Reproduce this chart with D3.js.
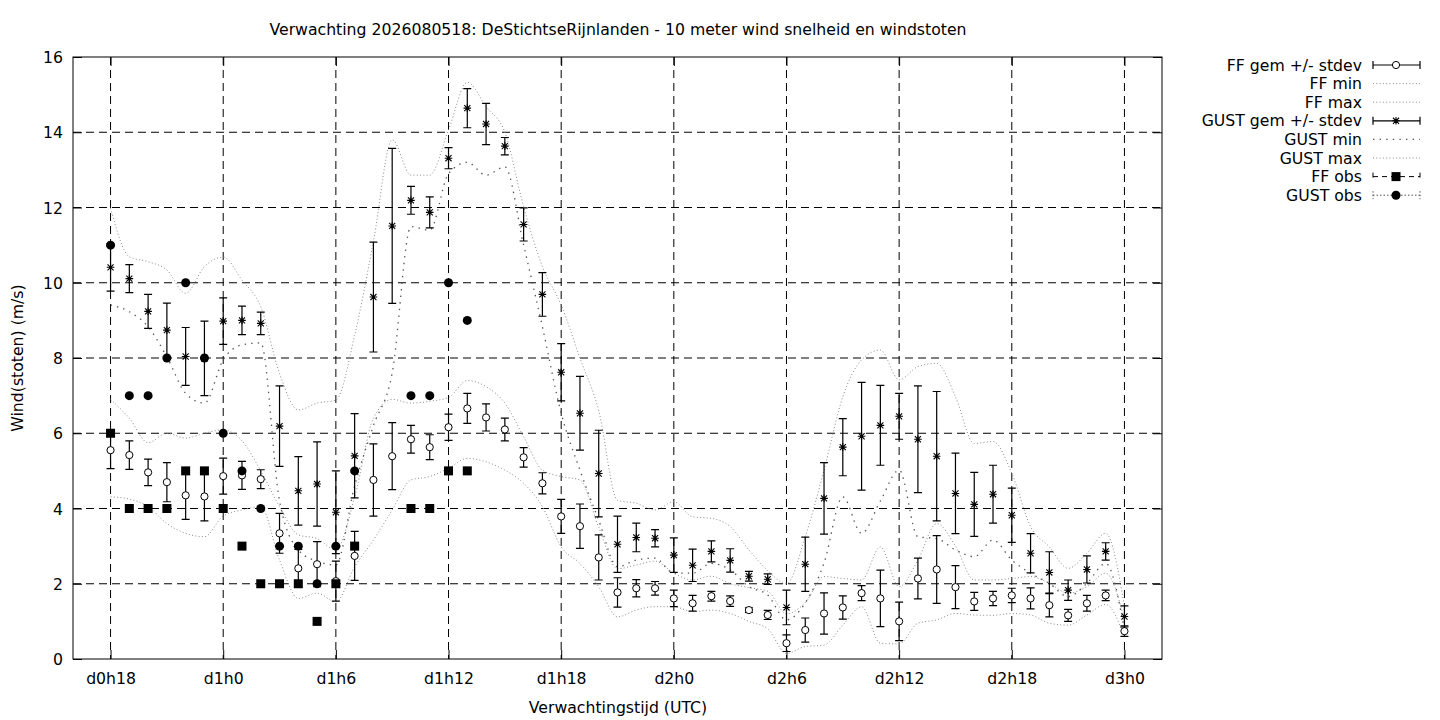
<!DOCTYPE html>
<html>
<head>
<meta charset="utf-8">
<script src="https://cdn.jsdelivr.net/npm/d3@7"></script>
<style>
  body { margin: 0; background: #fff; }
  svg text { font-family: "DejaVu Sans", sans-serif; font-size: 15.7px; fill: #000; }
</style>
</head>
<body>
<div class="content"></div>
<script>
const hours = [18,19,20,21,22,23,24,25,26,27,28,29,30,31,32,33,34,35,36,37,38,39,40,41,42,43,44,45,
  46,47,48,49,50,51,52,53,54,55,56,57,58,59,60,61,62,63,64,65,66,67,68,69,70,71,72];
const tickHours = [18,24,30,36,42,48,54,60,66,72];
const tickLabels = ['d0h18','d1h0','d1h6','d1h12','d1h18','d2h0','d2h6','d2h12','d2h18','d3h0'];

const ffMean = [5.55,5.42,4.96,4.70,4.35,4.32,4.86,4.88,4.78,3.34,2.41,2.52,2.07,2.74,4.76,5.39,5.84,5.63,6.16,6.66,
  6.42,6.10,5.36,4.67,3.79,3.53,2.70,1.77,1.88,1.88,1.61,1.48,1.67,1.54,1.30,1.17,0.42,0.77,1.21,1.37,
  1.75,1.61,1.00,2.14,2.38,1.91,1.53,1.61,1.69,1.61,1.43,1.16,1.48,1.69,0.74];
const ffSd = [0.49,0.38,0.35,0.52,0.64,0.65,0.48,0.37,0.25,0.53,0.50,0.60,0.53,0.65,0.96,0.89,0.37,0.33,0.35,0.40,
  0.36,0.30,0.26,0.28,0.45,0.59,0.60,0.39,0.23,0.18,0.22,0.21,0.13,0.14,0.06,0.12,0.22,0.32,0.55,0.31,
  0.20,0.75,0.51,0.54,0.90,0.57,0.24,0.19,0.19,0.28,0.31,0.16,0.21,0.14,0.14];
const ffMin = [4.31,4.25,4.05,3.60,3.34,3.25,3.80,3.96,4.05,2.63,1.61,1.75,1.52,2.45,3.16,3.96,4.76,4.85,5.07,5.33,
  5.24,5.02,4.67,4.05,2.98,2.54,1.92,1.12,1.30,1.39,1.39,1.26,1.30,1.21,1.00,0.80,0.15,0.33,0.37,0.90,
  1.39,0.42,0.40,0.95,1.04,1.21,1.17,1.16,1.21,1.17,0.95,0.90,1.17,1.45,0.59];
const ffMax = [6.90,6.40,5.75,6.00,5.87,6.00,6.09,5.80,5.00,4.05,3.30,3.20,2.90,4.30,6.40,6.90,6.80,6.85,6.95,7.40,
  7.24,6.80,5.91,5.02,4.85,4.76,3.50,2.40,2.50,2.60,2.28,2.10,2.20,2.00,1.90,1.80,1.20,1.50,2.19,2.14,
  2.10,2.98,1.92,2.63,3.60,3.00,2.10,2.10,2.14,2.19,2.01,1.75,1.92,2.28,1.04];

const gustMean = [10.41,10.11,9.24,8.74,8.04,7.99,8.98,9.00,8.92,6.19,4.47,4.65,3.90,5.40,9.62,11.51,12.19,11.87,13.31,14.64,
  14.22,13.63,11.55,9.69,7.62,6.53,4.93,3.05,3.23,3.21,2.76,2.49,2.86,2.62,2.20,2.12,1.37,2.52,4.27,5.63,
  5.92,6.21,6.45,5.84,5.39,4.40,4.11,4.38,3.82,2.81,2.30,1.83,2.38,2.86,1.13];
const gustSd = [0.63,0.37,0.45,0.72,0.77,0.99,0.62,0.38,0.30,1.07,0.91,1.12,1.10,1.12,1.46,2.06,0.37,0.41,0.28,0.52,
  0.55,0.23,0.44,0.58,0.76,0.98,1.15,0.75,0.38,0.23,0.46,0.43,0.28,0.31,0.13,0.14,0.46,0.72,0.95,0.76,
  1.43,1.06,0.61,1.42,1.72,1.07,0.85,0.77,0.72,0.52,0.55,0.27,0.36,0.23,0.28];
const gustMin = [9.41,9.23,8.83,8.03,7.06,6.80,7.95,8.35,8.40,4.20,2.90,2.60,2.50,4.60,6.20,7.60,11.49,11.40,12.90,13.20,
  12.86,13.08,11.00,8.83,6.53,5.02,3.69,2.45,2.63,2.68,2.28,2.28,2.54,2.37,1.92,1.70,1.04,1.49,2.55,4.31,
  3.34,4.20,5.02,3.25,3.20,2.90,2.72,3.16,2.63,2.28,2.01,1.66,2.01,2.54,0.77];
const gustMax = [11.98,10.69,10.56,10.34,9.72,10.43,10.68,10.07,9.36,7.59,6.62,6.80,6.88,8.60,11.10,13.80,12.86,12.86,14.06,15.33,
  14.68,14.00,12.02,10.43,9.41,8.00,6.60,4.22,4.14,3.96,4.18,3.78,3.74,3.52,2.90,2.35,2.00,3.25,5.02,6.97,
  7.95,8.21,7.42,7.77,7.86,6.97,5.73,5.78,4.94,3.52,2.98,2.41,2.81,3.34,1.39];

const ffObs = [6,4,4,4,5,5,4,3,2,2,2,1,2,3,null,null,4,4,5,5,
  null,null,null,null,null,null,null,null,null,null,null,null,null,null,null,null,null,null,null,null,
  null,null,null,null,null,null,null,null,null,null,null,null,null,null,null];
const gustObs = [11,7,7,8,10,8,6,5,4,3,3,2,3,5,null,null,7,7,10,9,
  null,null,null,null,null,null,null,null,null,null,null,null,null,null,null,null,null,null,null,null,
  null,null,null,null,null,null,null,null,null,null,null,null,null,null,null];

const yTicks = [0,2,4,6,8,10,12,14,16];

const [svgWidth, svgHeight] = [1440, 720];
const svg = d3.select('.content')
  .append('svg')
  .attr('width', svgWidth)
  .attr('height', svgHeight);

const plot = {left: 73, right: 1162, top: 57, bottom: 659};
const x = d3.scaleLinear().domain([16, 74]).range([plot.left, plot.right]);
const y = d3.scaleLinear().domain([0, 16]).range([plot.bottom, plot.top]);

// grid
const grid = svg.append('g');
grid.selectAll('line.gx')
  .data(tickHours)
  .enter().append('line')
  .attr('x1', d => x(d)).attr('x2', d => x(d))
  .attr('y1', plot.top).attr('y2', plot.bottom)
  .attr('stroke', '#000').attr('stroke-width', 1).attr('stroke-dasharray', '8,5');
grid.selectAll('line.gy')
  .data(yTicks.slice(1, -1))
  .enter().append('line')
  .attr('x1', plot.left).attr('x2', plot.right)
  .attr('y1', d => y(d)).attr('y2', d => y(d))
  .attr('stroke', '#000').attr('stroke-width', 1).attr('stroke-dasharray', '8,5');

// axes with inward ticks
const axisLeft = d3.axisLeft(y).tickValues(yTicks).tickFormat(d3.format('d'))
  .tickSizeInner(-9).tickSizeOuter(0).tickPadding(10);
const axisRight = d3.axisRight(y).tickValues(yTicks).tickFormat('')
  .tickSizeInner(-9).tickSizeOuter(0);
const axisBottom = d3.axisBottom(x).tickValues(tickHours)
  .tickFormat((d, i) => tickLabels[i]).tickSizeInner(-9).tickSizeOuter(0).tickPadding(14);
const axisTop = d3.axisTop(x).tickValues(tickHours).tickFormat('')
  .tickSizeInner(-9).tickSizeOuter(0);

const styleAxis = g => {
  g.select('.domain').remove();
  g.selectAll('line').attr('stroke', '#000');
  g.selectAll('text').style('font-size', '15.7px').attr('fill', '#000');
};
svg.append('g').attr('transform', `translate(${plot.left},0)`).call(axisLeft).call(styleAxis)
  .selectAll('text').attr('dy', '0.35em');
svg.append('g').attr('transform', `translate(${plot.right},0)`).call(axisRight).call(styleAxis);
svg.append('g').attr('transform', `translate(0,${plot.bottom})`).call(axisBottom).call(styleAxis)
  .selectAll('text').attr('dy', '0.71em').attr('y', 14);
svg.append('g').attr('transform', `translate(0,${plot.top})`).call(axisTop).call(styleAxis);

svg.append('rect')
  .attr('x', plot.left).attr('y', plot.top)
  .attr('width', plot.right - plot.left).attr('height', plot.bottom - plot.top)
  .attr('fill', 'none').attr('stroke', '#000').attr('stroke-width', 1);

// min / max curves
const fineDot = {stroke: '#8a8a8a', width: 1, dash: '1,2.3'};
const sparseDot = {stroke: '#555', width: 1.3, dash: '1.4,5.2'};
const curve = (vals, st) => {
  const line = d3.line()
    .x((d, i) => x(hours[i]))
    .y(d => y(d))
    .curve(d3.curveMonotoneX);
  svg.append('path')
    .attr('d', line(vals))
    .attr('fill', 'none')
    .attr('stroke', st.stroke)
    .attr('stroke-width', st.width)
    .attr('stroke-dasharray', st.dash);
};
curve(ffMin, fineDot);
curve(ffMax, fineDot);
curve(gustMin, sparseDot);
curve(gustMax, fineDot);

// error bars
const cap = 4;
const errorBars = (mean, sd) => {
  const g = svg.append('g');
  const rows = hours.map((h, i) => ({h, m: mean[i], s: sd[i]}));
  g.selectAll('path')
    .data(rows)
    .enter().append('path')
    .attr('d', d => {
      const cx = x(d.h), top = y(d.m + d.s), bot = y(d.m - d.s);
      return `M${cx},${top}V${bot}M${cx - cap},${top}H${cx + cap}M${cx - cap},${bot}H${cx + cap}`;
    })
    .attr('stroke', '#000').attr('stroke-width', 1.2).attr('fill', 'none');
  return rows;
};
const starPath = (cx, cy, s) =>
  `M${cx - s},${cy}H${cx + s}M${cx},${cy - s}V${cy + s}` +
  `M${cx - s * 0.8},${cy - s * 0.8}L${cx + s * 0.8},${cy + s * 0.8}` +
  `M${cx - s * 0.8},${cy + s * 0.8}L${cx + s * 0.8},${cy - s * 0.8}`;

const ffRows = errorBars(ffMean, ffSd);
svg.append('g').selectAll('circle')
  .data(ffRows)
  .enter().append('circle')
  .attr('cx', d => x(d.h)).attr('cy', d => y(d.m)).attr('r', 3.6)
  .attr('fill', '#fff').attr('stroke', '#000').attr('stroke-width', 1);

const gustRows = errorBars(gustMean, gustSd);
svg.append('g').selectAll('path')
  .data(gustRows)
  .enter().append('path')
  .attr('d', d => starPath(x(d.h), y(d.m), 3.8))
  .attr('stroke', '#000').attr('stroke-width', 1.1).attr('fill', 'none');

// observations
const ffObsRows = hours.map((h, i) => ({h, v: ffObs[i]})).filter(d => d.v !== null);
svg.append('g').selectAll('rect')
  .data(ffObsRows)
  .enter().append('rect')
  .attr('x', d => x(d.h) - 4.5).attr('y', d => y(d.v) - 4.5)
  .attr('width', 9).attr('height', 9).attr('fill', '#000');
const gustObsRows = hours.map((h, i) => ({h, v: gustObs[i]})).filter(d => d.v !== null);
svg.append('g').selectAll('circle')
  .data(gustObsRows)
  .enter().append('circle')
  .attr('cx', d => x(d.h)).attr('cy', d => y(d.v)).attr('r', 4.5)
  .attr('fill', '#000');

// titles
svg.append('text')
  .attr('x', 618).attr('y', 35)
  .attr('text-anchor', 'middle')
  .text('Verwachting 2026080518: DeStichtseRijnlanden - 10 meter wind snelheid en windstoten');
svg.append('text')
  .attr('x', 618).attr('y', 713)
  .attr('text-anchor', 'middle')
  .text('Verwachtingstijd (UTC)');
svg.append('text')
  .attr('transform', `translate(23,${(plot.top + plot.bottom) / 2}) rotate(-90)`)
  .attr('text-anchor', 'middle')
  .text('Wind(stoten) (m/s)');

// legend
const legendItems = [
  {label: 'FF gem +/- stdev', kind: 'ff'},
  {label: 'FF min', kind: 'fine'},
  {label: 'FF max', kind: 'fine'},
  {label: 'GUST gem +/- stdev', kind: 'gust'},
  {label: 'GUST min', kind: 'sparse'},
  {label: 'GUST max', kind: 'fine'},
  {label: 'FF obs', kind: 'ffobs'},
  {label: 'GUST obs', kind: 'gustobs'}
];
const lx0 = 1373, lx1 = 1420, lmid = 1396;
const legend = svg.append('g');
legend.selectAll('g.item')
  .data(legendItems)
  .enter().append('g')
  .attr('transform', (d, i) => `translate(0,${65 + 18.6 * i})`)
  .each(function (d) {
    const g = d3.select(this);
    g.append('text').attr('x', 1362).attr('y', 0).attr('dy', '0.35em')
      .attr('text-anchor', 'end').text(d.label);
    const caps = `M${lx0},-4V4M${lx1},-4V4`;
    if (d.kind === 'ff' || d.kind === 'gust') {
      g.append('path').attr('d', `M${lx0},0H${lx1}` + caps)
        .attr('stroke', '#000').attr('stroke-width', 1.2).attr('fill', 'none');
      if (d.kind === 'ff') {
        g.append('circle').attr('cx', lmid).attr('cy', 0).attr('r', 3.6)
          .attr('fill', '#fff').attr('stroke', '#000');
      } else {
        g.append('path').attr('d', starPath(lmid, 0, 3.8))
          .attr('stroke', '#000').attr('stroke-width', 1.1);
      }
    } else if (d.kind === 'fine' || d.kind === 'sparse') {
      const st = d.kind === 'fine' ? fineDot : sparseDot;
      g.append('path').attr('d', `M${lx0},0H${lx1}`)
        .attr('stroke', st.stroke).attr('stroke-width', st.width)
        .attr('stroke-dasharray', st.dash).attr('fill', 'none');
    } else if (d.kind === 'ffobs') {
      g.append('path').attr('d', `M${lx0},0H${lx1}` + caps)
        .attr('stroke', '#000').attr('stroke-width', 1).attr('stroke-dasharray', '5,4').attr('fill', 'none');
      g.append('rect').attr('x', lmid - 4.5).attr('y', -4.5).attr('width', 9).attr('height', 9).attr('fill', '#000');
    } else {
      g.append('path').attr('d', `M${lx0},0H${lx1}` + caps)
        .attr('stroke', '#555').attr('stroke-width', 1).attr('stroke-dasharray', '1.5,2').attr('fill', 'none');
      g.append('circle').attr('cx', lmid).attr('cy', 0).attr('r', 4.5).attr('fill', '#000');
    }
  });
</script>
</body>
</html>
